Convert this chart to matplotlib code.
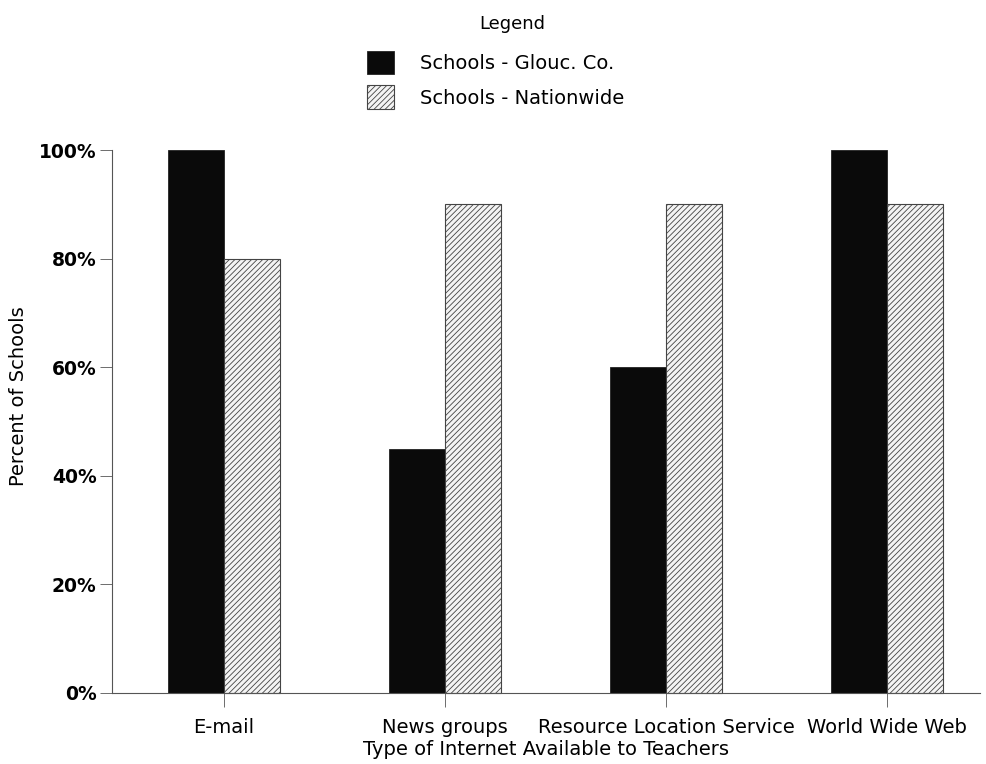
import matplotlib
matplotlib.use("Agg")
import matplotlib.pyplot as plt
import numpy as np

plt.rcParams['font.family'] = ['DejaVu Sans']
plt.rcParams['hatch.linewidth'] = 0.6

categories = ["E-mail", "News groups", "Resource Location Service", "World Wide Web"]
glouc = [100, 45, 60, 100]
nation = [80, 90, 90, 90]
series_names = ["Schools - Glouc. Co.", "Schools - Nationwide"]
yticks = [0, 20, 40, 60, 80, 100]
ytick_labels = ["0%", "20%", "40%", "60%", "80%", "100%"]

fig = plt.figure(figsize=(9.87, 7.64), dpi=100)
ax = fig.add_axes([112/987, 1-693/764, (980-112)/987, (693-150)/764])

x = np.arange(len(categories))
w = 0.253
b1 = ax.bar(x - w/2, glouc, w, color='#0a0a0a', edgecolor='#222222', linewidth=0.6,
            label=series_names[0], clip_on=False)
plt.rcParams['hatch.color'] = '#555555'
b2 = ax.bar(x + w/2, nation, w, color='#f4f4f4', edgecolor='#444444', linewidth=0.8,
            hatch='//////', label=series_names[1], clip_on=False)

ax.set_xlim(-0.507, 3.42)
ax.set_ylim(0, 100)
ax.set_xticks(x)
ax.set_xticklabels(categories, fontsize=14)
ax.set_yticks(yticks)
ax.set_yticklabels(ytick_labels, fontsize=13.5, fontweight='bold')
ax.tick_params(axis='x', length=10, width=0.6, color='#555555', pad=8)
ax.tick_params(axis='y', length=9, width=0.6, color='#555555', pad=2)
for s in ['top', 'right']:
    ax.spines[s].set_visible(False)
ax.spines['left'].set_linewidth(0.8)
ax.spines['left'].set_color('#555555')
ax.spines['bottom'].set_linewidth(0.8)
ax.spines['bottom'].set_color('#555555')

ax.set_xlabel("Type of Internet Available to Teachers", fontsize=14, labelpad=2)
ax.set_ylabel("Percent of Schools", fontsize=14, labelpad=8, y=0.547)

fig.text(512/987, 1-24/764, "Legend", ha='center', va='center', fontsize=13)
leg = fig.legend(handles=[b1, b2], labels=series_names, loc='upper left',
                 bbox_to_anchor=(367/987, 1-51/764), frameon=False, fontsize=14,
                 handlelength=1.39, handleheight=1.48, handletextpad=1.35,
                 labelspacing=0.56, borderpad=0, borderaxespad=0)

fig.savefig("out.png", dpi=100)
